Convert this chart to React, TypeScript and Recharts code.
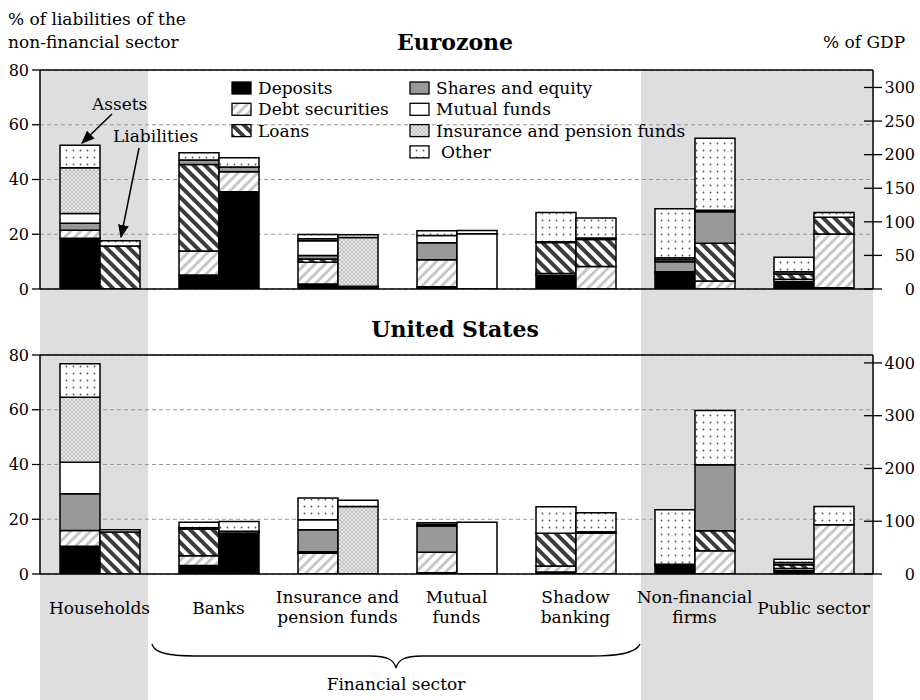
import React from 'react'
import { BarChart, Bar, XAxis, YAxis, CartesianGrid, ReferenceLine } from 'recharts'

const CATEGORIES = [
  'Households', 'Banks', 'Insurance and\npension funds', 'Mutual\nfunds',
  'Shadow\nbanking', 'Non-financial\nfirms', 'Public sector',
]

const COMPONENTS = ['deposits', 'debt', 'loans', 'shares', 'mutual', 'insurance', 'other'] as const
type Comp = typeof COMPONENTS[number]

const LABELS: Record<Comp, string> = {
  deposits: 'Deposits', debt: 'Debt securities', loans: 'Loans', shares: 'Shares and equity',
  mutual: 'Mutual funds', insurance: 'Insurance and pension funds', other: 'Other',
}

// % of liabilities of the non-financial sector, one value per category
const EZ_ASSETS: Record<Comp, number[]> = {
  deposits:  [18.5, 5.1, 1.8, 0.8, 4.9, 5.5, 2.7],
  debt:      [3.0, 8.8, 8.0, 9.9, 0.8, 0.4, 0.9],
  loans:     [0, 31.6, 1.2, 0, 11.3, 0.4, 1.9],
  shares:    [2.5, 1.6, 1.2, 6.2, 0.3, 3.7, 0.8],
  mutual:    [3.6, 0, 5.4, 2.6, 0, 0.7, 0],
  insurance: [16.7, 0, 0.8, 0, 0, 0.7, 0],
  other:     [8.2, 2.7, 1.5, 1.8, 10.6, 17.9, 5.3],
}
const EZ_LIABS: Record<Comp, number[]> = {
  deposits:  [0, 35.5, 0, 0, 0, 0, 0.5],
  debt:      [0, 7.3, 0.5, 0, 8.2, 2.9, 19.6],
  loans:     [15.7, 0, 0.5, 0, 9.9, 13.8, 6.1],
  shares:    [0, 1.8, 0, 0, 0.5, 11.5, 0],
  mutual:    [0, 0, 0, 20.2, 0, 0, 0],
  insurance: [0, 0, 17.8, 0, 0, 0.6, 0],
  other:     [1.9, 3.3, 1.0, 1.2, 7.3, 26.3, 1.7],
}
const US_ASSETS: Record<Comp, number[]> = {
  deposits:  [10.1, 3.1, 0, 0.5, 0.7, 2.8, 1.2],
  debt:      [5.8, 3.6, 7.6, 7.4, 2.2, 0.4, 0.8],
  loans:     [0, 9.7, 0.5, 0, 12.0, 0, 1.4],
  shares:    [13.4, 0, 8.1, 9.6, 0, 0.4, 0.8],
  mutual:    [11.5, 0.5, 3.6, 0.6, 0, 0, 0],
  insurance: [23.8, 0, 0, 0, 0, 0, 0],
  other:     [12.2, 2.0, 8.0, 0.6, 9.7, 19.9, 1.2],
}
const US_LIABS: Record<Comp, number[]> = {
  deposits:  [0, 15.0, 0, 0, 0, 0, 0],
  debt:      [0, 0.6, 0, 0, 14.9, 8.5, 18.0],
  loans:     [15.3, 0, 0, 0, 0.5, 7.3, 0],
  shares:    [0, 0, 0, 0, 0, 24.1, 0],
  mutual:    [0, 0, 0, 18.9, 0, 0, 0],
  insurance: [0, 0, 24.7, 0, 0, 0, 0],
  other:     [0.9, 3.6, 2.2, 0, 7.0, 19.8, 6.7],
}

const LEFT_TICKS = [0, 20, 40, 60, 80]
const EZ_GDP_TICKS = [0, 50, 100, 150, 200, 250, 300]
const US_GDP_TICKS = [0, 100, 200, 300, 400]
// % of GDP equivalent of the top of the left scale (80)
const EZ_GDP_MAX = 326
const US_GDP_MAX = 415

const FILLS: Record<Comp, string> = {
  deposits: '#000',
  debt: 'url(#pat-debt)',
  loans: 'url(#pat-loans)',
  shares: '#999',
  mutual: '#fff',
  insurance: 'url(#pat-ins)',
  other: 'url(#pat-other)',
}

const FONT = '"DejaVu Serif", serif'

function buildRows(assets: Record<Comp, number[]>, liabs: Record<Comp, number[]>) {
  return CATEGORIES.map((cat, i) => {
    const row: Record<string, string | number> = { cat }
    COMPONENTS.forEach(c => {
      row['a_' + c] = assets[c][i]
      row['l_' + c] = liabs[c][i]
    })
    return row
  })
}

const RightTick = ({ x, y, payload }: any) => {
  const axisX = x - 13
  return (
    <g>
      <line x1={axisX - 9} x2={axisX + 9} y1={y} y2={y} stroke="#000" strokeWidth={1.3} />
      <text x={axisX + 42} y={y} dy="0.36em" textAnchor="end" fontSize={16} fill="#000">{payload.value}</text>
    </g>
  )
}

const CategoryTick = ({ x, y, payload }: any) => {
  const lines = String(payload.value).split('\n')
  const base = lines.length === 1 ? [40] : [29, 49]
  return (
    <g>
      {lines.map((l, i) => (
        <text key={i} x={x} y={y + base[i]} textAnchor="middle" fontSize={17} fill="#000">{l}</text>
      ))}
    </g>
  )
}

function Panel({ rows, top, height, marginTop, xHeight, gdpMax, gdpTicks, labels }: any) {
  return (
    <div style={{ position: 'absolute', left: 0, top }}>
      <BarChart
        width={920}
        height={height}
        data={rows}
        margin={{ top: marginTop, right: 0, bottom: 0, left: 0 }}
        barGap={0}
        barSize={40}
      >
        <CartesianGrid yAxisId="left" vertical={false} stroke="#999" strokeDasharray="4 3" />
        <XAxis
          dataKey="cat"
          height={xHeight}
          interval={0}
          tickLine={false}
          tickSize={0}
          tickMargin={0}
          tick={labels ? <CategoryTick /> : false}
          axisLine={{ stroke: '#000', strokeWidth: 1.5 }}
        />
        <YAxis
          yAxisId="left"
          width={40}
          domain={[0, 80]}
          ticks={LEFT_TICKS}
          allowDataOverflow
          tickSize={8}
          tickMargin={3}
          tick={{ fontSize: 16, fill: '#000' }}
          tickLine={{ stroke: '#000', strokeWidth: 1.3 }}
          axisLine={{ stroke: '#000', strokeWidth: 1.5 }}
        />
        <YAxis
          yAxisId="right"
          orientation="right"
          width={47}
          domain={[0, gdpMax]}
          ticks={gdpTicks}
          allowDataOverflow
          tickSize={9}
          tickMargin={4}
          tickLine={false}
          tick={<RightTick />}
          axisLine={{ stroke: '#000', strokeWidth: 1.5 }}
        />
        <ReferenceLine yAxisId="left" y={80} stroke="#000" strokeWidth={1.5} />
        {COMPONENTS.map(c => (
          <Bar key={'a' + c} yAxisId="left" dataKey={'a_' + c} stackId="a" fill={FILLS[c]}
            stroke="#000" strokeWidth={1.5} isAnimationActive={false} />
        ))}
        {COMPONENTS.map(c => (
          <Bar key={'l' + c} yAxisId="left" dataKey={'l_' + c} stackId="l" fill={FILLS[c]}
            stroke="#000" strokeWidth={1.5} isAnimationActive={false} />
        ))}
      </BarChart>
    </div>
  )
}

const LEGEND_COLS: Comp[][] = [
  ['deposits', 'debt', 'loans'],
  ['shares', 'mutual', 'insurance', 'other'],
]

function Overlay() {
  const colX = [232, 410]
  return (
    <svg width={920} height={700} style={{ position: 'absolute', left: 0, top: 0, pointerEvents: 'none' }}
      fontFamily={FONT}>
      <defs>
        <marker id="arrow" viewBox="0 0 10 10" refX="9" refY="5" markerWidth="9" markerHeight="9" orient="auto">
          <path d="M0,1 L10,5 L0,9 z" fill="#000" />
        </marker>
      </defs>
      <text x={8} y={25} fontSize={17}>% of liabilities of the</text>
      <text x={8} y={48} fontSize={17}>non-financial sector</text>
      <text x={823} y={48} fontSize={17}>% of GDP</text>
      <text x={455} y={50} fontSize={22} fontWeight="bold" textAnchor="middle">Eurozone</text>
      <text x={455} y={337} fontSize={22} fontWeight="bold" textAnchor="middle">United States</text>

      {LEGEND_COLS.map((col, ci) => col.map((c, ri) => {
        const y = 88 + ri * 21.3
        return (
          <g key={c}>
            <rect x={colX[ci]} y={y - 6} width={19} height={12} fill={FILLS[c]} stroke="#000" strokeWidth={1.3} />
            <text x={colX[ci] + (c === 'other' ? 31 : 26)} y={y + 6} fontSize={17}>{LABELS[c]}</text>
          </g>
        )
      }))}

      <text x={92} y={110} fontSize={17}>Assets</text>
      <line x1={112} y1={114} x2={82} y2={143} stroke="#000" strokeWidth={1.5} markerEnd="url(#arrow)" />
      <text x={113} y={142} fontSize={17}>Liabilities</text>
      <line x1={139} y1={148} x2={121} y2={237} stroke="#000" strokeWidth={1.5} markerEnd="url(#arrow)" />

      <path d="M152,644 C155,656 180,656 205,656 L370,656 C388,656 394,660 396,668 C398,660 404,656 422,656 L590,656 C615,656 636,654 640,644"
        fill="none" stroke="#000" strokeWidth={1.3} />
      <text x={396} y={690} fontSize={17} textAnchor="middle">Financial sector</text>
    </svg>
  )
}

export default function App() {
  const ezRows = buildRows(EZ_ASSETS, EZ_LIABS)
  const usRows = buildRows(US_ASSETS, US_LIABS)
  return (
    <div style={{ position: 'absolute', left: 0, top: 0, width: 920, height: 700, background: '#fff', fontFamily: FONT, overflow: 'hidden' }}>
      <svg width={0} height={0} style={{ position: 'absolute' }}>
        <defs>
          <pattern id="pat-debt" width="7" height="7" patternUnits="userSpaceOnUse" patternTransform="rotate(45)">
            <rect width="7" height="7" fill="#fff" />
            <line x1="3.5" y1="0" x2="3.5" y2="7" stroke="#c4c4c4" strokeWidth="2.8" />
          </pattern>
          <pattern id="pat-loans" width="8" height="8" patternUnits="userSpaceOnUse" patternTransform="rotate(-45)">
            <rect width="8" height="8" fill="#fff" />
            <line x1="4" y1="0" x2="4" y2="8" stroke="#3c3c3c" strokeWidth="4" />
          </pattern>
          <pattern id="pat-ins" width="4" height="4" patternUnits="userSpaceOnUse">
            <rect width="4" height="4" fill="#e6e6e6" />
            <path d="M0,0 L4,4 M4,0 L0,4" stroke="#b4b4b4" strokeWidth="0.7" />
          </pattern>
          <pattern id="pat-other" width="7" height="7" patternUnits="userSpaceOnUse">
            <rect width="7" height="7" fill="#fff" />
            <circle cx="3.5" cy="3.5" r="0.9" fill="#555" />
          </pattern>
        </defs>
      </svg>
      {/* shaded sectors behind both panels */}
      <div style={{ position: 'absolute', left: 40, top: 70, width: 108, height: 630, background: '#dedede' }} />
      <div style={{ position: 'absolute', left: 641, top: 70, width: 232, height: 630, background: '#dedede' }} />
      <Panel rows={ezRows} top={0} height={300} marginTop={70} xHeight={11}
        gdpMax={EZ_GDP_MAX} gdpTicks={EZ_GDP_TICKS} labels={false} />
      <Panel rows={usRows} top={300} height={400} marginTop={55} xHeight={126}
        gdpMax={US_GDP_MAX} gdpTicks={US_GDP_TICKS} labels />
      <Overlay />
    </div>
  )
}
